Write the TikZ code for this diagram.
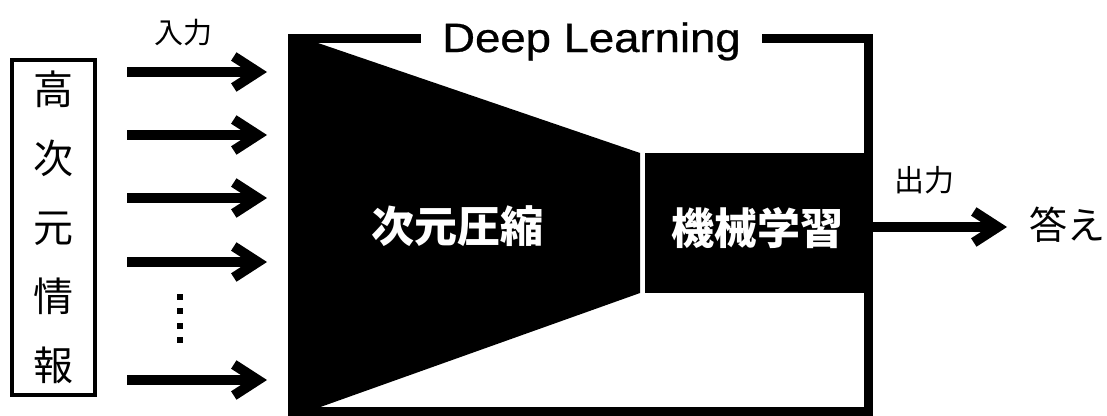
\documentclass[tikz,border=0pt]{standalone}
\usepackage{fontspec}
\setmainfont{Liberation Sans}
\newfontfamily\jp{Noto Sans CJK JP}
\newfontfamily\titlefont[FakeBold=0.6]{Liberation Sans}
\usetikzlibrary{arrows.meta}
\begin{document}
\begin{tikzpicture}[x=1pt,y=-1pt,
  arr/.style={line width=10pt,-{Straight Barb[length=24pt,width=31pt,line width=10pt,sharp]}},
  whitelab/.style={text=white,font=\jp\bfseries\fontsize{43pt}{43pt}\selectfont,inner sep=0pt},
  blacklab/.style={text=black,inner sep=0pt},
  framestroke/.style={line width=9pt,line join=miter}]
\clip (0,0) rectangle (1107,415);
% frame
\draw[framestroke] (292.5,38.5) rectangle (868.5,411.5);
% trapezoid (dimension compression)
\fill (288,34) -- (291.6,34) -- (640,153) -- (640,293) -- (298,415) -- (288,415) -- cycle;
% machine learning block
\fill (645,153) rectangle (873,293);
% title
\node[fill=white,inner xsep=21pt,inner ysep=4pt,anchor=base,font=\titlefont\fontsize{41pt}{41pt}\selectfont] (title) at (591.5,52) {\scalebox{1.11}[1]{Deep Learning}};
% texts in blocks
\node[whitelab] (comp) at (457,226) {次元圧縮};
\node[whitelab] (ml) at (757,228) {機械学習};
% input box
\node[draw,line width=4pt,minimum width=83pt,minimum height=335pt,inner sep=0pt,align=center,
      font=\jp\fontsize{40pt}{69pt}\selectfont] (src) at (53.5,227.5) {高\\次\\元\\情\\報};
% labels
\node[blacklab,font=\jp\fontsize{29pt}{29pt}\selectfont] (inlab) at (183,33) {入力};
\node[blacklab,font=\jp\fontsize{30pt}{30pt}\selectfont] (outlab) at (924,180) {出力};
\node[blacklab,font=\jp\fontsize{38pt}{38pt}\selectfont] (ans) at (1067,225) {答え};
% input arrows
\foreach \i/\y in {1/72,2/135,3/198,4/262,5/380}{
  \coordinate (s\i) at (127,\y);
  \coordinate (e\i) at (267,\y);
  \draw[arr] (s\i) -- (e\i);
}
% dots
\foreach \y in {297,311,326,340}{
  \fill (177,\y-3) rectangle (183,\y+3);
}
% output arrow
\coordinate (o1) at (873,227);
\coordinate (o2) at (1007,227);
\draw[arr] (o1) -- (o2);
\end{tikzpicture}
\end{document}
